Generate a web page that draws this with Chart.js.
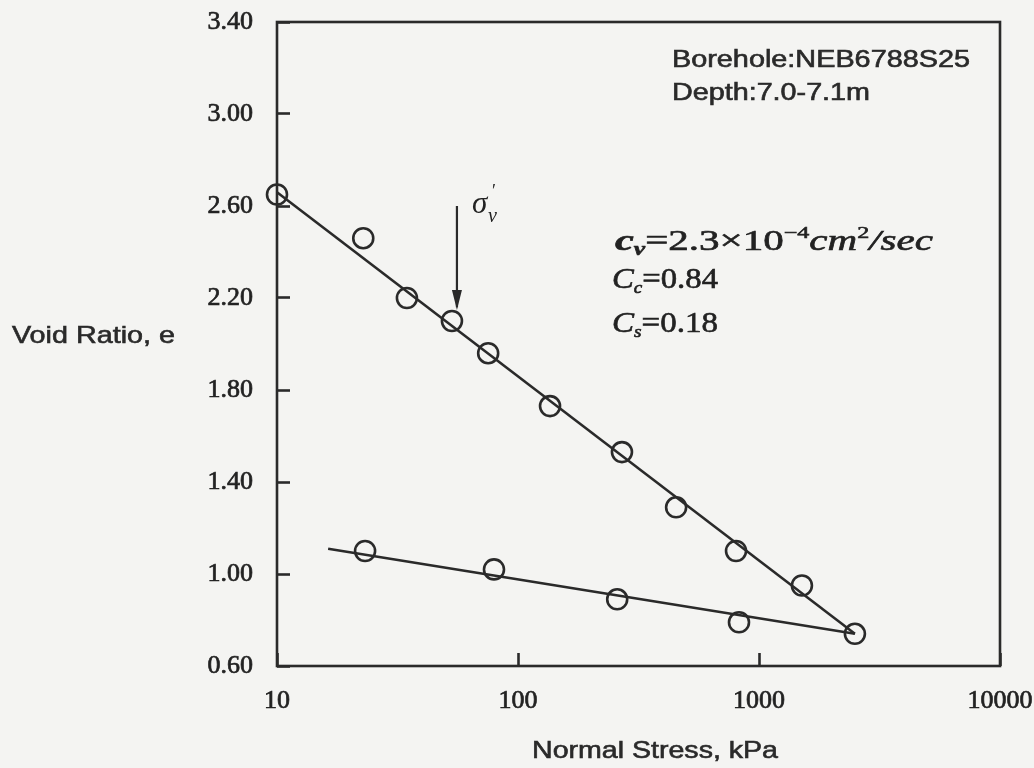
<!DOCTYPE html>
<html>
<head>
<meta charset="utf-8">
<script src="https://cdn.jsdelivr.net/npm/chart.js@4"></script>
<style>
  html, body { margin: 0; padding: 0; background: #f4f4f2; }
  #wrap { width: 1034px; height: 768px; }
</style>
</head>
<body>
<div id="wrap"><canvas id="chart" width="1034" height="768"></canvas></div>
<script>
// e - log p data
const loadStress = [10, 22.8, 34.6, 53.2, 75.2, 135.8, 270, 453, 803, 1507, 2500];
const loadVoid = [2.65, 2.46, 2.20, 2.10, 1.96, 1.73, 1.53, 1.29, 1.10, 0.95, 0.74];
const unloadStress = [23.2, 79.5, 258, 826];
const unloadVoid = [1.10, 1.02, 0.89, 0.79];

// fitted straight lines
const loadFitStress = [10, 2500];
const loadFitVoid = [2.66, 0.74];
const unloadFitStress = [16.3, 2500];
const unloadFitVoid = [1.11, 0.74];

// preconsolidation arrow
const arrowStress = [55.8, 55.8];
const arrowVoid = [2.60, 2.16];

const xTicks = [10, 100, 1000, 10000];
const yTicks = [0.6, 1.0, 1.4, 1.8, 2.2, 2.6, 3.0, 3.4];

const ink = '#2a2a2a';

function pts(xs, ys) {
    return xs.map((x, i) => ({ x: x, y: ys[i] }));
}

// draws a run of text pieces, stretched horizontally to a given width
function drawStretched(ctx, parts, x, y, width) {
    let total = 0;
    parts.forEach(p => { ctx.font = p.font; total += ctx.measureText(p.t).width; });
    const s = width / total;
    ctx.save();
    ctx.translate(x, y);
    ctx.scale(s, 1);
    ctx.textBaseline = 'alphabetic';
    ctx.textAlign = 'left';
    ctx.strokeStyle = ctx.fillStyle;
    ctx.lineWidth = 0.6;
    let cx = 0;
    parts.forEach(p => {
        ctx.font = p.font;
        ctx.fillText(p.t, cx, p.dy || 0);
        ctx.strokeText(p.t, cx, p.dy || 0);
        cx += ctx.measureText(p.t).width;
    });
    ctx.restore();
}

const sans = '"Liberation Sans", Arial, sans-serif';
const serif = '"Liberation Serif", "Times New Roman", serif';

const decorPlugin = {
    id: 'decor',
    beforeDatasetsDraw(chart) {
        const ctx = chart.ctx;
        const a = chart.chartArea;
        ctx.save();
        ctx.strokeStyle = ink;
        ctx.lineWidth = 2.6;
        ctx.strokeRect(a.left, a.top, a.right - a.left, a.bottom - a.top);
        ctx.restore();
    },
    afterDraw(chart) {
        const ctx = chart.ctx;
        const xs = chart.scales.x, ys = chart.scales.y;
        ctx.save();
        ctx.fillStyle = '#2a2a2a';

        // axis titles
        drawStretched(ctx, [{ t: 'Void Ratio, e', font: '24px ' + sans }], 12, 343, 163);
        drawStretched(ctx, [{ t: 'Normal Stress, kPa', font: '24px ' + sans }], 532, 758, 246);

        // borehole info
        drawStretched(ctx, [{ t: 'Borehole:NEB6788S25', font: '23px ' + sans }], 672, 67, 298);
        drawStretched(ctx, [{ t: 'Depth:7.0-7.1m', font: '23px ' + sans }], 672, 100, 198);

        // consolidation parameters
        ctx.fillStyle = '#222';
        drawStretched(ctx, [
            { t: 'c', font: 'italic bold 30px ' + serif },
            { t: 'v', font: 'italic bold 18px ' + serif, dy: 5 },
            { t: '=2.3\u00d710', font: '29px ' + serif },
            { t: '\u22124', font: '17px ' + serif, dy: -12 },
            { t: 'cm', font: 'italic 29px ' + serif },
            { t: '2', font: '17px ' + serif, dy: -12 },
            { t: '/sec', font: 'italic 29px ' + serif }
        ], 615, 250, 318);
        drawStretched(ctx, [
            { t: 'C', font: 'italic 29px ' + serif },
            { t: 'c', font: 'italic 17px ' + serif, dy: 5 },
            { t: '=0.84', font: '29px ' + serif }
        ], 612, 288, 106);
        drawStretched(ctx, [
            { t: 'C', font: 'italic 29px ' + serif },
            { t: 's', font: 'italic 17px ' + serif, dy: 5 },
            { t: '=0.18', font: '29px ' + serif }
        ], 612, 332, 106);

        // arrow head and sigma'_v label
        const ax = xs.getPixelForValue(arrowStress[1]);
        const tip = ys.getPixelForValue(2.148);
        ctx.fillStyle = ink;
        ctx.beginPath();
        ctx.moveTo(ax, tip);
        ctx.lineTo(ax - 5, tip - 20);
        ctx.lineTo(ax + 5, tip - 20);
        ctx.closePath();
        ctx.fill();

        const top = ys.getPixelForValue(arrowVoid[0]);
        ctx.fillStyle = '#222';
        ctx.textBaseline = 'alphabetic';
        ctx.font = 'italic 31px ' + serif;
        ctx.fillText('\u03c3', ax + 15, top + 7);
        ctx.font = '18px ' + serif;
        ctx.fillText('\u2032', ax + 35, top - 9);
        ctx.font = 'italic 20px ' + serif;
        ctx.fillText('v', ax + 31, top + 16);
        ctx.restore();
    }
};

const circleStyle = {
    showLine: false,
    pointRadius: 10,
    pointHoverRadius: 10,
    pointBorderWidth: 2.6,
    pointBorderColor: ink,
    pointBackgroundColor: 'rgba(0,0,0,0)',
    clip: false
};
const lineStyle = {
    showLine: true,
    pointRadius: 0,
    borderColor: ink,
    borderWidth: 2.6,
    clip: false
};

const tickFont = { family: serif, size: 26 };

new Chart(document.getElementById('chart').getContext('2d'), {
    type: 'scatter',
    data: {
        datasets: [
            Object.assign({ label: 'loading fit', data: pts(loadFitStress, loadFitVoid) }, lineStyle),
            Object.assign({ label: 'unloading fit', data: pts(unloadFitStress, unloadFitVoid) }, lineStyle),
            Object.assign({ label: 'arrow', data: pts(arrowStress, arrowVoid) }, lineStyle, { borderWidth: 2.2 }),
            Object.assign({ label: 'loading', data: pts(loadStress, loadVoid) }, circleStyle),
            Object.assign({ label: 'unloading', data: pts(unloadStress, unloadVoid) }, circleStyle)
        ]
    },
    options: {
        responsive: false,
        animation: false,
        layout: { padding: 0 },
        plugins: {
            legend: { display: false },
            tooltip: { enabled: false }
        },
        scales: {
            x: {
                type: 'logarithmic',
                min: 10,
                max: 10000,
                border: { display: false },
                grid: { drawOnChartArea: false, drawTicks: true, tickLength: -13, tickWidth: 2.6, tickColor: ink },
                afterBuildTicks: s => { s.ticks = xTicks.map(v => ({ value: v })); },
                afterFit: s => {
                    s.height = 102;
                    s.paddingLeft = 0;
                    s.paddingRight = 34;
                },
                ticks: {
                    padding: 33,
                    color: '#222',
                    textStrokeColor: '#222',
                    textStrokeWidth: 0.7,
                    font: tickFont,
                    maxRotation: 0,
                    autoSkip: false,
                    callback: v => String(v)
                }
            },
            y: {
                min: 0.6,
                max: 3.4,
                border: { display: false },
                grid: { drawOnChartArea: false, drawTicks: true, tickLength: -13, tickWidth: 2.6, tickColor: ink },
                afterBuildTicks: s => { s.ticks = yTicks.map(v => ({ value: v })); },
                afterFit: s => {
                    s.width = 277;
                    s.paddingTop = 22;
                    s.paddingBottom = 0;
                },
                ticks: {
                    padding: 37,
                    color: '#222',
                    textStrokeColor: '#222',
                    textStrokeWidth: 0.7,
                    font: tickFont,
                    callback: v => Number(v).toFixed(2)
                }
            }
        }
    },
    plugins: [decorPlugin]
});
</script>
</body>
</html>
